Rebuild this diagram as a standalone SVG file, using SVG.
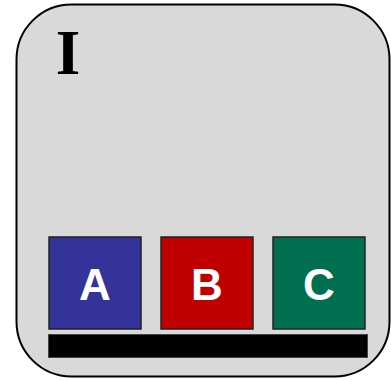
<svg xmlns="http://www.w3.org/2000/svg" width="391" height="380" viewBox="0 0 391 380">
<style>
.box{stroke:#222;stroke-width:1.5}
.lbl{font-family:"Liberation Sans",Arial,sans-serif;font-weight:bold;font-size:44px;fill:#fff;text-anchor:middle}
</style>
<g id="frame">
<rect x="16.5" y="4.5" width="373" height="372" rx="55" ry="55" fill="#d9d9d9" stroke="#000" stroke-width="2"/>
<text x="68" y="74" font-family="Liberation Serif,'Times New Roman',serif" font-weight="bold" font-size="63" text-anchor="middle" fill="#000">I</text>
</g>
<g id="nodeA"><rect class="box" x="49" y="237" width="92" height="92" fill="#333399"/><text class="lbl" x="95" y="300">A</text></g>
<g id="nodeB"><rect class="box" x="161" y="237" width="92" height="92" fill="#c00000"/><text class="lbl" x="207" y="300">B</text></g>
<g id="nodeC"><rect class="box" x="273" y="237" width="92" height="92" fill="#006f50"/><text class="lbl" x="319" y="300">C</text></g>
<g id="bar"><rect x="48.5" y="334.5" width="319" height="23" fill="#000" stroke="#444" stroke-width="1"/></g>
<g id="connectors"/>
</svg>
